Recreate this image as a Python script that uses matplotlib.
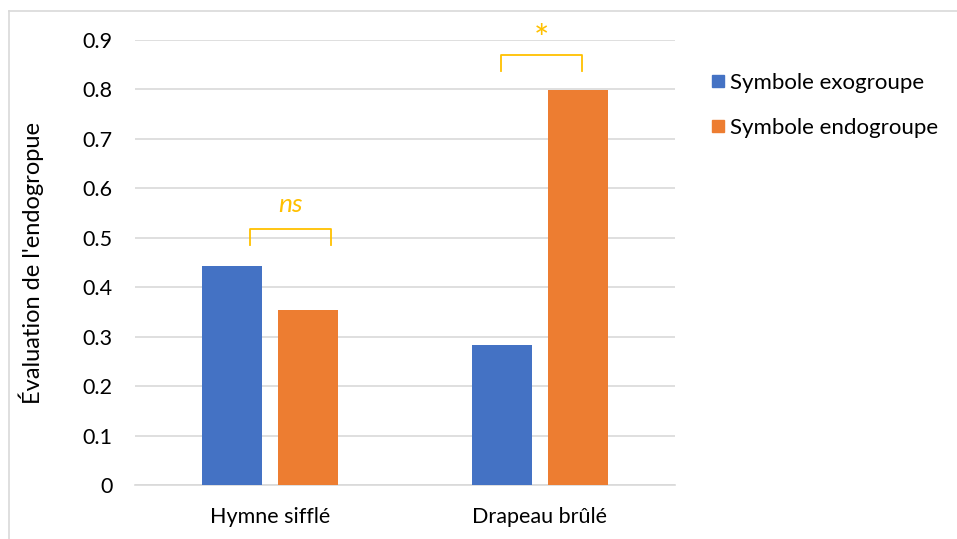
import matplotlib
matplotlib.use("Agg")
import matplotlib.pyplot as plt
from matplotlib.lines import Line2D

categories = ["Hymne sifflé", "Drapeau brûlé"]
series_names = ["Symbole exogroupe", "Symbole endogroupe"]
exo_values = [0.443, 0.283]
endo_values = [0.354, 0.799]
yticks = [0, 0.1, 0.2, 0.3, 0.4, 0.5, 0.6, 0.7, 0.8, 0.9]
ytick_labels = ["0", "0.1", "0.2", "0.3", "0.4", "0.5", "0.6", "0.7", "0.8", "0.9"]
sig_labels = ["ns", "*"]

blue = "#4472c4"
orange = "#ed7d31"
gold = "#ffc000"
grid = "#d9d9d9"

plt.rcParams['font.family'] = ['Lato', 'DejaVu Sans']

fig = plt.figure(figsize=(9.57, 5.39), dpi=100)
ax = fig.add_axes([135/957, 1-485/539, 540/957, 445/539])

x = [0, 1]
w = 0.224
off = 0.1415
ax.bar([i - off for i in x], exo_values, width=w, color=blue, label=series_names[0], zorder=3)
ax.bar([i + off for i in x], endo_values, width=w, color=orange, label=series_names[1], zorder=3)

ax.set_xlim(-0.5, 1.5)
ax.set_ylim(0, 0.9)
ax.set_yticks(yticks)
ax.set_yticklabels(ytick_labels, fontsize=15.5)
ax.set_xticks(x)
ax.set_xticklabels(categories, fontsize=15.5)
ax.tick_params(axis='both', length=0, colors='black')
ax.tick_params(axis='y', pad=16)
ax.tick_params(axis='x', pad=16)
ax.yaxis.grid(True, color=grid, linewidth=1.2, zorder=0)
ax.set_axisbelow(True)
for s in ['top', 'right', 'left']:
    ax.spines[s].set_visible(False)
ax.spines['bottom'].set_color(grid)
ax.spines['bottom'].set_linewidth(1.2)

ax.set_ylabel("Évaluation de l'endogropue", fontsize=17)
ax.yaxis.set_label_coords(-0.168, 0.5)

# significance brackets
brackets = [(-0.074, 0.226, 0.485, 0.518, 0.567), (0.854, 1.154, 0.837, 0.870, 0.905)]
for (x0, x1, yb, yt, ytxt), lab in zip(brackets, sig_labels):
    ax.plot([x0, x0, x1, x1], [yb, yt, yt, yb], color=gold, linewidth=1.3, clip_on=False, zorder=4)
    if lab == "ns":
        ax.text((x0 + x1) / 2, ytxt, lab, color=gold, fontsize=19, style='italic',
                ha='center', va='center')
    else:
        ax.text((x0 + x1) / 2, ytxt, lab, color=gold, fontsize=26,
                ha='center', va='center_baseline')

handles = [Line2D([], [], marker='s', linestyle='', markersize=8, color=blue),
           Line2D([], [], marker='s', linestyle='', markersize=8, color=orange)]
fig.legend(handles, series_names, loc='upper left', bbox_to_anchor=(686/957, 1-53/539),
           frameon=False, fontsize=16, handletextpad=0.0, labelspacing=1.12, handlelength=1.1)

# chart border (top and left visible)
fig.add_artist(Line2D([9/957, 9/957], [0, 1-11/539], color=grid, linewidth=1.2))
fig.add_artist(Line2D([9/957, 1], [1-11/539, 1-11/539], color=grid, linewidth=1.2))

fig.savefig("out.png", dpi=100)
